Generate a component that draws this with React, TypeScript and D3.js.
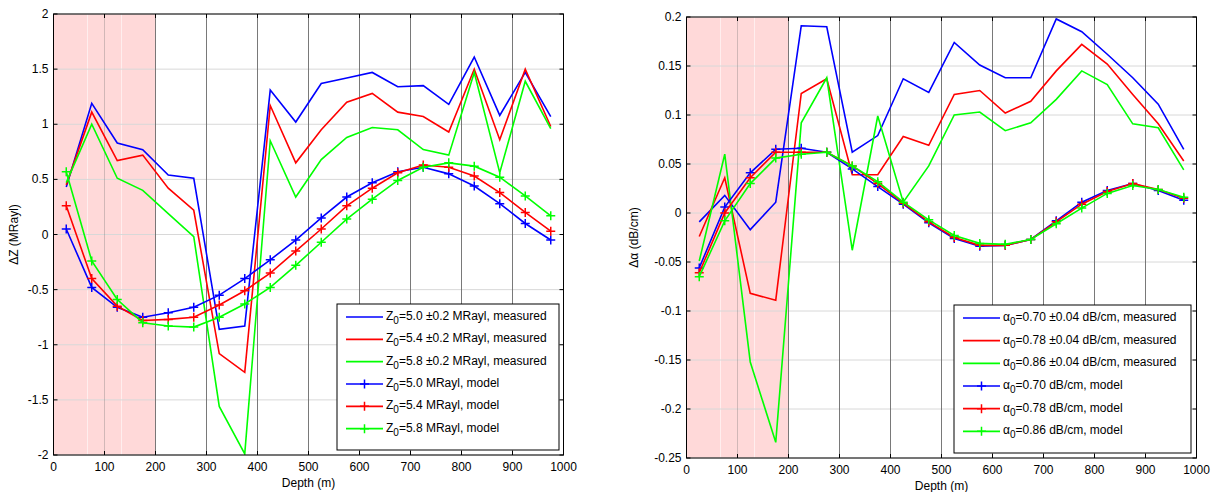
import React from "react";
import * as d3 from "d3";

const depths = [25, 75, 125, 175, 225, 275, 325, 375, 425, 475, 525, 575, 625, 675, 725, 775, 825, 875, 925, 975];
const xTicks = [0, 100, 200, 300, 400, 500, 600, 700, 800, 900, 1000];

const zTicks = [-2, -1.5, -1, -0.5, 0, 0.5, 1, 1.5, 2];
const zBlueMeas = [0.43, 1.19, 0.83, 0.77, 0.54, 0.51, -0.86, -0.83, 1.31, 1.02, 1.37, 1.42, 1.47, 1.34, 1.35, 1.18, 1.61, 1.08, 1.47, 1.07];
const zRedMeas = [0.45, 1.11, 0.67, 0.72, 0.42, 0.22, -1.08, -1.25, 1.17, 0.65, 0.95, 1.2, 1.28, 1.11, 1.07, 0.93, 1.5, 0.86, 1.5, 0.98];
const zGreenMeas = [0.47, 1.0, 0.51, 0.4, 0.19, -0.02, -1.56, -1.99, 0.85, 0.34, 0.68, 0.88, 0.97, 0.95, 0.77, 0.72, 1.47, 0.56, 1.39, 0.96];
const zBlueModel = [0.05, -0.48, -0.66, -0.75, -0.71, -0.66, -0.55, -0.4, -0.23, -0.05, 0.15, 0.34, 0.47, 0.57, 0.61, 0.55, 0.44, 0.28, 0.1, -0.05];
const zRedModel = [0.26, -0.4, -0.65, -0.78, -0.77, -0.75, -0.64, -0.51, -0.35, -0.15, 0.05, 0.26, 0.42, 0.56, 0.63, 0.61, 0.53, 0.38, 0.2, 0.03];
const zGreenModel = [0.57, -0.24, -0.59, -0.8, -0.83, -0.84, -0.75, -0.63, -0.48, -0.28, -0.07, 0.14, 0.32, 0.49, 0.61, 0.65, 0.62, 0.52, 0.35, 0.17];

const aTicks = [-0.25, -0.2, -0.15, -0.1, -0.05, 0, 0.05, 0.1, 0.15, 0.2];
const aBlueMeas = [-0.009, 0.018, -0.017, 0.011, 0.191, 0.19, 0.062, 0.079, 0.137, 0.123, 0.174, 0.151, 0.138, 0.138, 0.198, 0.185, 0.162, 0.138, 0.111, 0.065];
const aRedMeas = [-0.024, 0.036, -0.082, -0.089, 0.122, 0.137, 0.039, 0.039, 0.078, 0.069, 0.121, 0.125, 0.102, 0.114, 0.145, 0.172, 0.152, 0.121, 0.091, 0.053];
const aGreenMeas = [-0.049, 0.06, -0.152, -0.234, 0.092, 0.138, -0.038, 0.099, 0.011, 0.048, 0.1, 0.103, 0.084, 0.092, 0.116, 0.145, 0.131, 0.091, 0.087, 0.044];
const aBlueModel = [-0.056, 0.006, 0.041, 0.065, 0.066, 0.062, 0.045, 0.027, 0.009, -0.01, -0.026, -0.034, -0.033, -0.027, -0.008, 0.011, 0.023, 0.03, 0.023, 0.013];
const aRedModel = [-0.061, 0.0, 0.036, 0.062, 0.062, 0.062, 0.048, 0.03, 0.01, -0.009, -0.025, -0.033, -0.033, -0.027, -0.009, 0.009, 0.022, 0.03, 0.024, 0.015];
const aGreenModel = [-0.065, -0.008, 0.03, 0.056, 0.06, 0.062, 0.048, 0.032, 0.011, -0.007, -0.023, -0.031, -0.032, -0.027, -0.011, 0.005, 0.02, 0.028, 0.024, 0.016];

const zLegend = [
  { sym: "Z", val: "=5.0 \u00b10.2 MRayl, measured" },
  { sym: "Z", val: "=5.4 \u00b10.2 MRayl, measured" },
  { sym: "Z", val: "=5.8 \u00b10.2 MRayl, measured" },
  { sym: "Z", val: "=5.0 MRayl, model" },
  { sym: "Z", val: "=5.4 MRayl, model" },
  { sym: "Z", val: "=5.8 MRayl, model" },
];
const aLegend = [
  { sym: "\u03b1", val: "=0.70 \u00b10.04 dB/cm, measured" },
  { sym: "\u03b1", val: "=0.78 \u00b10.04 dB/cm, measured" },
  { sym: "\u03b1", val: "=0.86 \u00b10.04 dB/cm, measured" },
  { sym: "\u03b1", val: "=0.70 dB/cm, model" },
  { sym: "\u03b1", val: "=0.78 dB/cm, model" },
  { sym: "\u03b1", val: "=0.86 dB/cm, model" },
];

const BLUE = "#0000ff";
const RED = "#ff0000";
const GREEN = "#00ff00";
const FONT = "'Liberation Sans', Arial, Helvetica, sans-serif";
const FS = 12;

type PanelProps = {
  px0: number; px1: number; py0: number; py1: number;
  yDomain: [number, number];
  yTicks: number[];
  series: { vals: number[]; color: string; model: boolean }[];
  legend: { sym: string; val: string }[];
  legBox: { x: number; y: number; w: number; h: number };
  yLabel: React.ReactNode;
  yLabelX: number;
};

function Plus({ x, y, color }: { x: number; y: number; color: string }) {
  const s = 4.5;
  return (
    <path d={`M${x - s},${y}H${x + s}M${x},${y - s}V${y + s}`} stroke={color} strokeWidth={1.5} fill="none" />
  );
}

function Panel(p: PanelProps) {
  const x = d3.scaleLinear().domain([0, 1000]).range([p.px0, p.px1]);
  const y = d3.scaleLinear().domain(p.yDomain).range([p.py1, p.py0]);
  const line = d3
    .line<number>()
    .x((_, i) => x(depths[i]))
    .y((v) => y(v));
  const clipId = `clip${Math.round(p.px0)}`;
  const thirds = [200 / 3, 400 / 3];
  const tl = 4;
  const rowH = (p.legBox.h - 12) / 6;
  return (
    <g fontFamily={FONT}>
      <defs>
        <clipPath id={clipId}>
          <rect x={p.px0} y={p.py0} width={p.px1 - p.px0} height={p.py1 - p.py0} />
        </clipPath>
      </defs>
      <rect x={p.px0} y={p.py0} width={p.px1 - p.px0} height={p.py1 - p.py0} fill="#fff" />
      <rect x={x(0)} y={p.py0} width={x(200) - x(0)} height={p.py1 - p.py0} fill="#ffd9d9" />
      {thirds.map((t) => (
        <line key={t} x1={x(t)} x2={x(t)} y1={p.py0} y2={p.py1} stroke="#fff" strokeOpacity={0.55} strokeWidth={1} />
      ))}
      {p.yTicks.map((t) => (
        <line key={"h" + t} x1={p.px0} x2={p.px1} y1={y(t)} y2={y(t)} stroke="#d8d8d8" strokeWidth={1} />
      ))}
      {xTicks.slice(1, -1).map((t) => (
        <line key={"v" + t} x1={x(t)} x2={x(t)} y1={p.py0} y2={p.py1} stroke="#6a6a6a" strokeWidth={0.9} strokeOpacity={t < 200 ? 0.35 : 1} />
      ))}
      <g clipPath={`url(#${clipId})`}>
        {p.series.map((s, i) => (
          <g key={i}>
            <path d={line(s.vals) || ""} fill="none" stroke={s.color} strokeWidth={1.6} strokeLinejoin="miter" />
            {s.model && s.vals.map((v, j) => <Plus key={j} x={x(depths[j])} y={y(v)} color={s.color} />)}
          </g>
        ))}
      </g>
      {xTicks.map((t) => (
        <g key={"xt" + t}>
          <line x1={x(t)} x2={x(t)} y1={p.py1} y2={p.py1 - tl} stroke="#000" />
          <line x1={x(t)} x2={x(t)} y1={p.py0} y2={p.py0 + tl} stroke="#000" />
          <text x={x(t)} y={p.py1 + 16} textAnchor="middle" fontSize={FS} fill="#000">{t}</text>
        </g>
      ))}
      {p.yTicks.map((t) => (
        <g key={"yt" + t}>
          <line x1={p.px0} x2={p.px0 + tl} y1={y(t)} y2={y(t)} stroke="#000" />
          <line x1={p.px1} x2={p.px1 - tl} y1={y(t)} y2={y(t)} stroke="#000" />
          <text x={p.px0 - 5} y={y(t) + 4} textAnchor="end" fontSize={FS} fill="#000">{String(+t.toFixed(2))}</text>
        </g>
      ))}
      <rect x={p.px0} y={p.py0} width={p.px1 - p.px0} height={p.py1 - p.py0} fill="none" stroke="#000" strokeWidth={1} />
      <text x={(p.px0 + p.px1) / 2} y={p.py1 + 32} textAnchor="middle" fontSize={FS} fill="#000">Depth (m)</text>
      <text transform={`translate(${p.yLabelX},${(p.py0 + p.py1) / 2}) rotate(-90)`} textAnchor="middle" fontSize={FS} fill="#000">{p.yLabel}</text>
      <rect x={p.legBox.x} y={p.legBox.y} width={p.legBox.w} height={p.legBox.h} fill="#fff" stroke="#000" strokeWidth={1} />
      {p.legend.map((l, i) => {
        const cy = p.legBox.y + 12 + rowH * i + 1;
        const s = p.series[i];
        const lx0 = p.legBox.x + 9;
        const lx1 = lx0 + 37;
        return (
          <g key={"lg" + i}>
            <line x1={lx0} x2={lx1} y1={cy} y2={cy} stroke={s.color} strokeWidth={1.6} />
            {s.model && <Plus x={(lx0 + lx1) / 2} y={cy} color={s.color} />}
            <text x={lx1 + 3} y={cy + 3} fontSize={FS} fill="#000">
              {l.sym}
              <tspan dy={4} fontSize={10}>0</tspan>
              <tspan dy={-4}>{l.val}</tspan>
            </text>
          </g>
        );
      })}
    </g>
  );
}

export default function App() {
  return (
    <svg width={1216} height={492} style={{ position: "absolute", left: 0, top: 0, background: "#fff" }}>
      <rect width={1216} height={492} fill="#fff" />
      <Panel
        px0={53.5} px1={563.5} py0={14} py1={455}
        yDomain={[-2, 2]}
        yTicks={zTicks}
        series={[
          { vals: zBlueMeas, color: BLUE, model: false },
          { vals: zRedMeas, color: RED, model: false },
          { vals: zGreenMeas, color: GREEN, model: false },
          { vals: zBlueModel, color: BLUE, model: true },
          { vals: zRedModel, color: RED, model: true },
          { vals: zGreenModel, color: GREEN, model: true },
        ]}
        legend={zLegend}
        legBox={{ x: 337, y: 304, w: 222, h: 146 }}
        yLabel={"\u0394Z (MRayl)"}
        yLabelX={18}
      />
      <Panel
        px0={686.5} px1={1196.5} py0={17} py1={458}
        yDomain={[-0.25, 0.2]}
        yTicks={aTicks}
        series={[
          { vals: aBlueMeas, color: BLUE, model: false },
          { vals: aRedMeas, color: RED, model: false },
          { vals: aGreenMeas, color: GREEN, model: false },
          { vals: aBlueModel, color: BLUE, model: true },
          { vals: aRedModel, color: RED, model: true },
          { vals: aGreenModel, color: GREEN, model: true },
        ]}
        legend={aLegend}
        legBox={{ x: 954, y: 305, w: 237, h: 148 }}
        yLabel={"\u0394\u03b1 (dB/cm)"}
        yLabelX={638}
      />
    </svg>
  );
}
